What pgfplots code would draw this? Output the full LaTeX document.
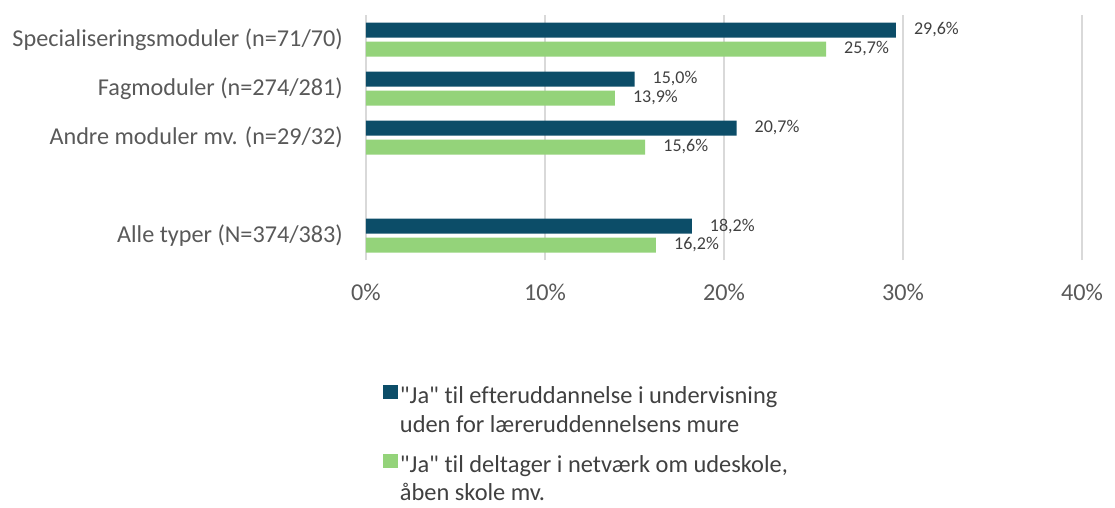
\documentclass[border=0pt]{standalone}
\usepackage{pgfplots}
\pgfplotsset{compat=1.18}
\usepackage{fontspec}
\setmainfont{Carlito}[Ligatures={TeXOff,CommonOff}]
\definecolor{darkbar}{RGB}{12,77,104}
\definecolor{greenbar}{RGB}{148,211,122}
\definecolor{gridgray}{RGB}{217,217,217}
\definecolor{labelgray}{RGB}{89,89,89}
\definecolor{labeltext}{RGB}{64,64,64}
\begin{document}
\begin{tikzpicture}
\useasboundingbox (-366pt,-247pt) rectangle (749pt,260pt);
\begin{axis}[
 at={(0pt,0pt)}, anchor=south west,
 scale only axis, width=716pt, height=245pt,
 xbar, bar width=15pt,
 xmin=0, xmax=40, ymin=-0.5, ymax=4.5,
 axis line style={draw=none},
 xmajorgrids, major grid style={gridgray, line width=1.2pt},
 major tick length=0pt,
 xtick={0,10,20,30,40}, xticklabels={0\%,10\%,20\%,30\%,40\%},
 ytick={0,2,3,4},
 yticklabels={Alle typer (N=374/383), Andre moduler mv. (n=29/32), Fagmoduler (n=274/281), Specialiseringsmoduler (n=71/70)},
 tick label style={font=\fontsize{24.2}{28}\selectfont, text=labelgray},
 yticklabel style={anchor=east, inner sep=0pt, xshift=-23pt},
 xticklabel style={anchor=north, inner sep=0pt, yshift=-24pt},
 point meta=x,
 /pgf/number format/assume math mode=true,
 nodes near coords={\pgfmathprintnumber[fixed,fixed zerofill,precision=1,use comma,assume math mode=true]{\pgfplotspointmeta}\%},
 nodes near coords style={font=\fontsize{18}{21}\selectfont, text=labeltext, anchor=west, inner sep=0pt, xshift=18pt},
 legend style={at={(axis description cs:0.0237,-0.51)}, anchor=north west, draw=none, fill=none,
   font=\fontsize{24.4}{28.5}\selectfont, text=labeltext, row sep=46pt, inner sep=0pt, outer sep=0pt,
   cells={anchor=base west}},
 legend cell align=left,
 legend image code/.code={\fill[#1] (0pt,-3pt) rectangle (15pt,11pt);},
]
\addplot[fill=darkbar, draw=none, bar shift=9.5pt] coordinates {(29.6,4) (15.0,3) (20.7,2) (18.2,0)};
\addlegendentry{\parbox[t]{450pt}{"Ja" til efteruddannelse i undervisning\\uden for læreruddennelsens mure}}
\addplot[fill=greenbar, draw=none, bar shift=-9.5pt] coordinates {(25.7,4) (13.9,3) (15.6,2) (16.2,0)};
\addlegendentry{\parbox[t]{450pt}{"Ja" til deltager i netværk om udeskole,\\åben skole mv.}}
\end{axis}
\end{tikzpicture}
\end{document}
